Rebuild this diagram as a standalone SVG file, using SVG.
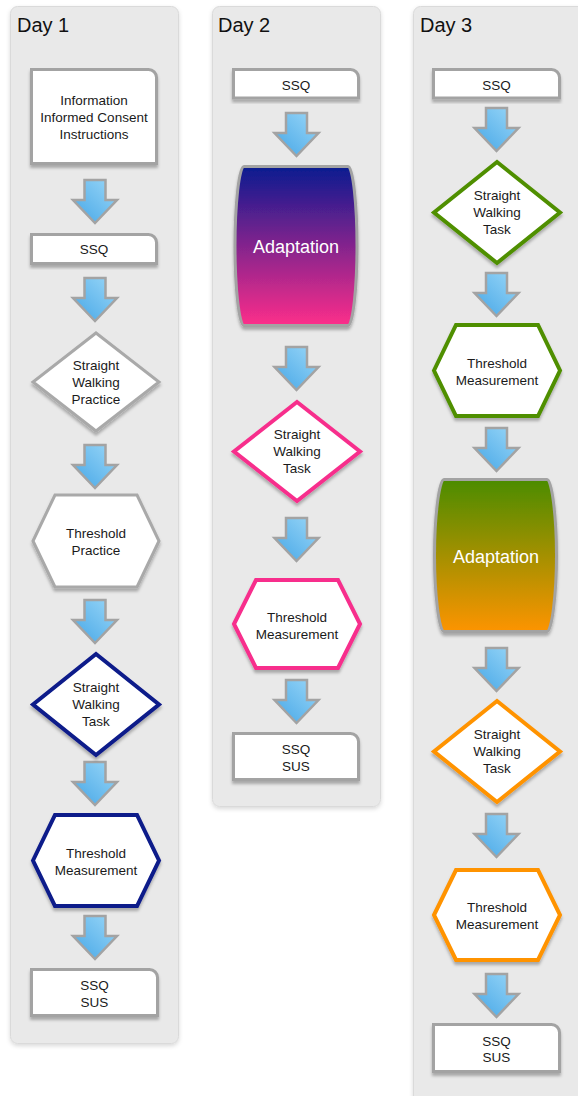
<svg xmlns="http://www.w3.org/2000/svg" width="578" height="1096" viewBox="0 0 578 1096">
<style>
.panel{fill:#e9e9e9;stroke:#dadada;stroke-width:1}
.ttl{font-family:"Liberation Sans",Arial,sans-serif;font-size:20px;fill:#111}
.t{font-family:"Liberation Sans",Arial,sans-serif;font-size:13.5px;fill:#1a1a1a;text-anchor:middle}
.ad{font-family:"Liberation Sans",Arial,sans-serif;font-size:18px;fill:#ffffff;text-anchor:middle}
.box{fill:#ffffff;stroke:#a3a3a3;stroke-width:3}
.gray{fill:#ffffff;stroke:#a9a9a9;stroke-width:3;stroke-linejoin:miter}
.blue{fill:#ffffff;stroke:#0b1a8a;stroke-width:4;stroke-linejoin:miter}
.pink{fill:#ffffff;stroke:#f72f8c;stroke-width:4;stroke-linejoin:miter}
.green{fill:#ffffff;stroke:#4f8f00;stroke-width:4;stroke-linejoin:miter}
.orange{fill:#ffffff;stroke:#ff9300;stroke-width:4;stroke-linejoin:miter}
.arrow{fill:url(#ag);stroke:#a3a3a3;stroke-width:2.5;stroke-linejoin:miter}
</style>
<defs>
<filter id="sh" x="-20%" y="-20%" width="140%" height="140%">
<feDropShadow dx="0" dy="3" stdDeviation="1.8" flood-color="#000" flood-opacity="0.28"/>
</filter>
<filter id="psh" x="-10%" y="-5%" width="120%" height="110%">
<feDropShadow dx="0" dy="2" stdDeviation="2" flood-color="#000" flood-opacity="0.15"/>
</filter>
<linearGradient id="ag" x1="0" y1="1" x2="1" y2="0">
<stop offset="0" stop-color="#45a6e6"/>
<stop offset="1" stop-color="#9ad7f8"/>
</linearGradient>
<linearGradient id="g2" x1="0" y1="0" x2="0" y2="1">
<stop offset="0" stop-color="#0a1a90"/>
<stop offset="1" stop-color="#fd2e8a"/>
</linearGradient>
<linearGradient id="g3" x1="0" y1="0" x2="0" y2="1">
<stop offset="0" stop-color="#4b8c00"/>
<stop offset="1" stop-color="#fd9400"/>
</linearGradient>
<path id="arr" d="M -10.5,0 H 10.5 V 20 H 22 L 0,43 L -22,20 H -10.5 Z"/>
</defs>
<rect x="0" y="0" width="578" height="1096" fill="#ffffff"/>

<g id="panels">
<rect class="panel" x="10.5" y="6.5" width="168" height="1037" rx="7" filter="url(#psh)"/>
<rect class="panel" x="212.5" y="6.5" width="168" height="800" rx="7" filter="url(#psh)"/>
<rect class="panel" x="413.5" y="6.5" width="172" height="1100" rx="7" filter="url(#psh)"/>
<text class="ttl" x="17" y="32">Day 1</text>
<text class="ttl" x="218" y="32">Day 2</text>
<text class="ttl" x="420" y="32">Day 3</text>
</g>

<g id="connectors">
<use href="#arr" class="arrow" x="95" y="180"/>
<use href="#arr" class="arrow" x="95" y="278"/>
<use href="#arr" class="arrow" x="95" y="445"/>
<use href="#arr" class="arrow" x="95" y="600"/>
<use href="#arr" class="arrow" x="95" y="762"/>
<use href="#arr" class="arrow" x="95" y="916"/>
<use href="#arr" class="arrow" x="296.5" y="113"/>
<use href="#arr" class="arrow" x="296.5" y="347"/>
<use href="#arr" class="arrow" x="296.5" y="518"/>
<use href="#arr" class="arrow" x="296.5" y="680"/>
<use href="#arr" class="arrow" x="496.5" y="108"/>
<use href="#arr" class="arrow" x="496.5" y="273"/>
<use href="#arr" class="arrow" x="496.5" y="428"/>
<use href="#arr" class="arrow" x="496.5" y="648"/>
<use href="#arr" class="arrow" x="496.5" y="814"/>
<use href="#arr" class="arrow" x="496.5" y="974"/>
</g>

<g id="d1-info">
<path class="box" filter="url(#sh)" d="M31.5,69.5 H148.5 A8,8 0 0 1 156.5,77.5 V163.5 H31.5 Z"/>
<text class="t" x="94" y="104.5">Information</text>
<text class="t" x="94" y="121.5">Informed Consent</text>
<text class="t" x="94" y="138.5">Instructions</text>
</g>
<g id="d1-ssq">
<path class="box" filter="url(#sh)" d="M31.5,234.5 H148.5 A8,8 0 0 1 156.5,242.5 V263.5 H31.5 Z"/>
<text class="t" x="94" y="253.5">SSQ</text>
</g>
<g id="d1-swp">
<polygon class="gray" filter="url(#sh)" points="96,333 159,382 96,431 33,382"/>
<text class="t" x="96" y="369.5">Straight</text>
<text class="t" x="96" y="386.5">Walking</text>
<text class="t" x="96" y="403.5">Practice</text>
</g>
<g id="d1-tp">
<polygon class="gray" filter="url(#sh)" points="33,541 55,495 137,495 159,541 137,587 55,587"/>
<text class="t" x="96" y="537.5">Threshold</text>
<text class="t" x="96" y="554.5">Practice</text>
</g>
<g id="d1-swt">
<polygon class="blue" filter="url(#sh)" points="96,654 159,704.5 96,755 33,704.5"/>
<text class="t" x="96" y="691.5">Straight</text>
<text class="t" x="96" y="708.5">Walking</text>
<text class="t" x="96" y="725.5">Task</text>
</g>
<g id="d1-tm">
<polygon class="blue" filter="url(#sh)" points="33,860.5 55,815 137,815 159,860.5 137,906 55,906"/>
<text class="t" x="96" y="857.5">Threshold</text>
<text class="t" x="96" y="874.5">Measurement</text>
</g>
<g id="d1-end">
<path class="box" filter="url(#sh)" d="M31.5,969.5 H149.5 A8,8 0 0 1 157.5,977.5 V1015.5 H31.5 Z"/>
<text class="t" x="94.5" y="989.5">SSQ</text>
<text class="t" x="94.5" y="1006.5">SUS</text>
</g>

<g id="d2-ssq">
<path class="box" filter="url(#sh)" d="M233.5,69.5 H350.5 A8,8 0 0 1 358.5,77.5 V98 H233.5 Z"/>
<text class="t" x="296" y="89.5">SSQ</text>
</g>
<g id="d2-adapt">
<path filter="url(#sh)" fill="url(#g2)" stroke="#a3a3a3" stroke-width="3" d="M244,166.5 H348 C353,166.5 357,205 357,246 C357,287 353,325.5 348,325.5 H244 C239,325.5 235,287 235,246 C235,205 239,166.5 244,166.5 Z"/>
<text class="ad" x="296" y="252.5">Adaptation</text>
</g>
<g id="d2-swt">
<polygon class="pink" filter="url(#sh)" points="297,402 360,451.5 297,501 234,451.5"/>
<text class="t" x="297" y="439">Straight</text>
<text class="t" x="297" y="456">Walking</text>
<text class="t" x="297" y="473">Task</text>
</g>
<g id="d2-tm">
<polygon class="pink" filter="url(#sh)" points="234,624 256,580 338,580 360,624 338,668 256,668"/>
<text class="t" x="297" y="621.5">Threshold</text>
<text class="t" x="297" y="638.5">Measurement</text>
</g>
<g id="d2-end">
<path class="box" filter="url(#sh)" d="M233.5,733.5 H350.5 A8,8 0 0 1 358.5,741.5 V779.5 H233.5 Z"/>
<text class="t" x="296" y="754">SSQ</text>
<text class="t" x="296" y="771">SUS</text>
</g>

<g id="d3-ssq">
<path class="box" filter="url(#sh)" d="M433.5,69.5 H551.5 A8,8 0 0 1 559.5,77.5 V98 H433.5 Z"/>
<text class="t" x="496.5" y="89.5">SSQ</text>
</g>
<g id="d3-swt1">
<polygon class="green" filter="url(#sh)" points="497,162 560,212.5 497,263 434,212.5"/>
<text class="t" x="497" y="200">Straight</text>
<text class="t" x="497" y="217">Walking</text>
<text class="t" x="497" y="234">Task</text>
</g>
<g id="d3-tm1">
<polygon class="green" filter="url(#sh)" points="434,370.5 456,325 538,325 560,370.5 538,416 456,416"/>
<text class="t" x="497" y="368">Threshold</text>
<text class="t" x="497" y="385">Measurement</text>
</g>
<g id="d3-adapt">
<path filter="url(#sh)" fill="url(#g3)" stroke="#a3a3a3" stroke-width="3" d="M444,479.5 H547 C552,479.5 556.5,518 556.5,555.5 C556.5,593 552,631.5 547,631.5 H444 C439,631.5 434.5,593 434.5,555.5 C434.5,518 439,479.5 444,479.5 Z"/>
<text class="ad" x="496" y="562.5">Adaptation</text>
</g>
<g id="d3-swt2">
<polygon class="orange" filter="url(#sh)" points="497,701 560,751.5 497,802 434,751.5"/>
<text class="t" x="497" y="739">Straight</text>
<text class="t" x="497" y="756">Walking</text>
<text class="t" x="497" y="773">Task</text>
</g>
<g id="d3-tm2">
<polygon class="orange" filter="url(#sh)" points="434,915 456,870 538,870 560,915 538,960 456,960"/>
<text class="t" x="497" y="912">Threshold</text>
<text class="t" x="497" y="929">Measurement</text>
</g>
<g id="d3-end">
<path class="box" filter="url(#sh)" d="M433.5,1024.5 H551.5 A8,8 0 0 1 559.5,1032.5 V1071.5 H433.5 Z"/>
<text class="t" x="496.5" y="1045.5">SSQ</text>
<text class="t" x="496.5" y="1062">SUS</text>
</g>
</svg>
